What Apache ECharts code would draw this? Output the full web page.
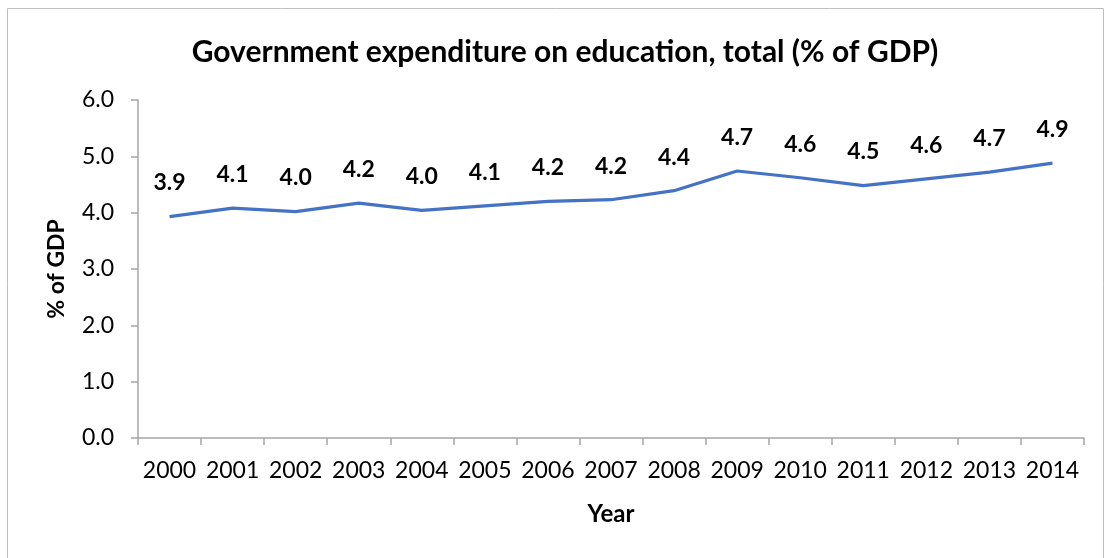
<!DOCTYPE html>
<html>
<head>
<meta charset="utf-8">
<script src="https://cdn.jsdelivr.net/npm/echarts@6/dist/echarts.min.js"></script>
<style>
html,body{margin:0;padding:0;background:#fff;}
#chart{width:1110px;height:558px;}
</style>
</head>
<body>
<div id="chart"></div>
<script>
const years = ['2000','2001','2002','2003','2004','2005','2006','2007','2008','2009','2010','2011','2012','2013','2014'];
const values = [3.93,4.08,4.02,4.17,4.04,4.12,4.20,4.23,4.39,4.74,4.62,4.48,4.60,4.72,4.88];
const titleText = 'Government expenditure on education, total (% of GDP)';
const yAxisName = '% of GDP';
const xAxisName = 'Year';

const FONT = 'Lato';
const chart = echarts.init(document.getElementById('chart'));
chart.setOption({
  backgroundColor: '#fff',
  animation: false,
  graphic: [{
    type: 'rect',
    shape: {x: 7.5, y: 8.5, width: 1096, height: 600},
    style: {fill: 'none', stroke: '#BFBFBF', lineWidth: 1}
  }],
  title: {
    text: titleText,
    left: 560,
    textAlign: 'center',
    top: 32,
    textStyle: {fontFamily: FONT, fontWeight: 'bold', fontSize: 30, color: '#000'}
  },
  grid: {left: 138, right: 26, top: 100, bottom: 120},
  xAxis: {
    type: 'category',
    data: years,
    boundaryGap: true,
    name: xAxisName,
    nameLocation: 'middle',
    nameGap: 64,
    nameTextStyle: {fontFamily: FONT, fontWeight: 'bold', fontSize: 24, color: '#000'},
    axisLine: {lineStyle: {color: '#A6A6A6', width: 1.5}},
    axisTick: {show: true, length: 7, lineStyle: {color: '#A6A6A6', width: 1.5}},
    axisLabel: {fontFamily: FONT, fontSize: 23, color: '#000', margin: 21, interval: 0}
  },
  yAxis: {
    type: 'value',
    min: 0, max: 6, interval: 1,
    name: yAxisName,
    nameLocation: 'middle',
    nameGap: 70,
    nameTextStyle: {fontFamily: FONT, fontWeight: 'bold', fontSize: 23, color: '#000'},
    axisLine: {show: true, lineStyle: {color: '#A6A6A6', width: 1.5}},
    axisTick: {show: true, length: 7, lineStyle: {color: '#A6A6A6', width: 1.5}},
    splitLine: {show: false},
    axisLabel: {fontFamily: FONT, fontSize: 23, color: '#000', margin: 24,
      formatter: v => v.toFixed(1)}
  },
  series: [{
    type: 'line',
    data: values,
    symbol: 'circle',
    symbolSize: 0.1,
    showSymbol: true,
    lineStyle: {color: '#4472C4', width: 3.2},
    itemStyle: {color: '#4472C4'},
    label: {
      show: true, position: 'top', distance: 22,
      fontFamily: FONT, fontWeight: 'bold', fontSize: 23, color: '#000',
      formatter: p => p.value.toFixed(1)
    }
  }]
});
</script>
</body>
</html>
